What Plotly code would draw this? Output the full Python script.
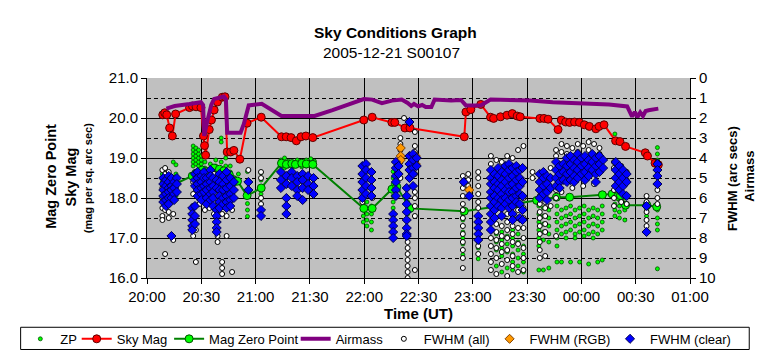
import plotly.graph_objects as go

FONT = "Liberation Sans, Arial, sans-serif"

# ---------------- data ----------------
# x values are minutes after 20:00 UT
tick_vals = [0, 30, 60, 90, 120, 150, 180, 210, 240, 270, 300]
tick_text = ["20:00", "20:30", "21:00", "21:30", "22:00", "22:30",
             "23:00", "23:30", "00:00", "00:30", "01:00"]
left_ticks = [16, 17, 18, 19, 20, 21]
right_ticks = [0, 1, 2, 3, 4, 5, 6, 7, 8, 9, 10]

airmass_t = [10.7, 15.3, 23.5, 29.8, 31.0, 31.6, 33.3, 35.5, 37.1, 39.8, 42.5, 43.6,
             44.3, 51.7, 53.5, 56.2, 63.4, 74.3, 92.6, 102.5, 119.8, 124.4, 129.8,
             135.3, 140.7, 144.0, 146.0, 147.5, 149.8, 152.0, 154.0, 157.1, 158.9,
             168.0, 173.5, 176.2, 184.4, 189.8, 206.2, 211.6, 224.2, 237.1, 255.3,
             265.3, 268.0, 269.5, 271.0, 272.5, 274.0, 275.5, 277.1, 282.5]
airmass_v = [1.53, 1.40, 1.30, 1.21, 1.35, 2.90, 2.17, 1.35, 1.05, 0.97, 0.93, 1.06,
             2.74, 2.74, 2.30, 1.37, 1.29, 1.90, 1.90, 1.61, 1.05, 1.08, 1.26,
             1.13, 1.08, 1.25, 1.40, 1.30, 1.42, 1.35, 1.45, 1.45, 1.08,
             1.13, 1.10, 1.37, 1.37, 1.08, 1.08, 1.13, 1.21, 1.24, 1.32,
             1.42, 1.93, 1.70, 1.95, 1.72, 1.90, 1.65, 1.61, 1.53]

skymag_t = [8.7, 9.8, 10.9, 12.5, 14.0, 15.8, 23.5, 25.1, 27.1, 29.8, 31.2, 31.8,
            32.4, 34.4, 35.6, 37.1, 38.9, 41.6, 43.1, 44.3, 46.2, 48.0, 51.3, 55.3,
            63.1, 74.3, 76.9, 79.6, 82.5, 85.1, 87.8, 91.6, 119.8, 124.4, 135.3,
            136.9, 142.5, 145.3, 175.3, 176.2, 178.9, 184.4, 189.8, 191.5, 195.3,
            198.9, 201.8, 204.5, 206.2, 217.1, 219.3, 221.6, 227.1, 228.9, 231.3,
            233.5, 236.2, 238.9, 241.6, 244.4, 248.0, 249.8, 252.5, 258.9, 261.3,
            264.4, 275.3, 276.5, 280.7, 282.5]
skymag_v = [20.08, 20.13, 20.08, 19.75, 19.55, 20.10, 20.26, 20.30, 20.28, 20.26, 19.55, 19.31,
            19.07, 19.71, 19.95, 20.20, 20.40, 20.52, 20.53, 19.15, 19.15, 19.19, 18.97, 19.87,
            20.02, 19.53, 19.53, 19.51, 19.43, 19.53, 19.55, 19.51, 19.95, 20.02, 19.89,
            19.89, 19.75, 19.75, 19.53, 20.15, 20.21, 20.34, 20.02, 19.99, 20.03,
            20.07, 20.11, 20.05, 20.03, 19.99, 19.99, 19.97, 19.71, 19.95, 19.90,
            19.89, 19.90, 19.89, 19.83, 19.79, 19.73, 19.79, 19.83, 19.43, 19.41,
            19.29, 19.13, 19.05, 18.87, 18.83]

mzp_t = [15.5, 25.0, 27.0, 30.5, 33.0, 37.0, 40.0, 42.5, 45.5, 47.5, 50.0, 55.3, 63.1,
         74.3, 77.0, 80.0, 82.0, 85.5, 88.0, 91.6, 119.8, 124.4, 135.3, 138.0, 145.3,
         175.3, 204.4, 215.3, 226.2, 233.5, 251.6, 257.0, 260.0, 261.6, 264.4, 276.2, 281.6]
mzp_v = [18.35, 18.55, 18.62, 18.70, 18.66, 18.75, 18.72, 18.68, 18.58, 18.46, 18.42, 18.06, 18.25,
         18.87, 18.84, 18.86, 18.84, 18.87, 18.85, 18.84, 17.74, 17.74, 18.22, 18.28, 17.74,
         17.67, 17.86, 17.94, 18.02, 18.02, 18.08, 18.10, 18.04, 18.06, 17.82, 17.82, 17.78]

# scatter clouds: (minutes after 20:00, [values])
zp_cols = [
    (8.5, [18.0, 18.2, 18.4, 18.6]), (10, [18.1, 18.45, 18.75]), (12.5, [17.9, 18.3, 18.55]),
    (14.5, [18.2, 18.9]), (16, [18.05, 18.6, 18.83]),
    (25.5, [18.8, 18.9, 19.0, 19.1, 19.2, 19.3, 18.5]), (27, [18.85, 18.95, 19.05, 19.15, 19.25]),
    (28.5, [18.8, 18.9, 19.0, 19.1, 19.2, 18.6]), (30, [18.85, 18.95, 19.05, 18.45]),
    (32, [18.6, 18.75, 18.9]), (35, [18.3, 18.55, 18.7, 18.85]), (38, [18.4, 18.65, 18.8, 18.95]),
    (41, [19.5, 19.4, 18.5, 18.7, 18.9]), (43.5, [18.35, 18.6, 18.8, 19.0]),
    (46, [18.4, 18.65, 18.8]), (48.5, [18.5, 18.35]), (50.5, [18.45, 18.6]),
    (55.5, [18.66, 17.86, 17.7, 17.54]), (63, [18.63, 18.45, 18.1, 17.85]),
    (74, [18.8, 18.95]), (76, [18.75, 18.85, 19.0]), (78, [18.8, 18.92]), (80.5, [18.78, 18.9]),
    (83, [18.85, 18.95]), (85.5, [18.78, 18.9]), (88, [18.8, 18.95]), (90.5, [18.85, 18.98]),
    (92.5, [18.8, 18.92]),
    (119.5, [17.85, 17.7, 17.55, 17.4]), (121.5, [17.9, 17.75, 17.6, 17.45, 17.3]),
    (124, [17.8, 17.6, 17.4, 17.2]),
    (136, [18.66, 18.5, 18.35, 18.2, 18.05, 17.9, 17.75, 17.62]), (144, [18.05, 17.9, 17.75, 17.6]),
    (174.5, [17.6, 17.45, 17.3, 17.15, 17.0, 16.85, 16.7, 16.58]),
    (183, [17.2, 17.05, 16.9, 16.75, 16.6, 16.48]),
    (190, [17.2, 17.0, 16.8, 16.6, 16.4, 16.2]), (193, [17.1, 16.9, 16.7, 16.5, 16.3]),
    (196, [17.15, 16.95, 16.75, 16.55, 16.35, 16.15]), (199, [17.05, 16.85, 16.65, 16.45, 16.25]),
    (202, [17.2, 17.0, 16.8, 16.6, 16.4, 16.2]), (205, [17.1, 16.9, 16.7, 16.5, 16.3]),
    (208, [17.0, 16.8, 16.6, 16.4, 16.15]),
    (216.5, [17.8, 17.6, 17.4, 17.2, 17.0, 16.8, 16.2]), (219, [17.75, 17.55, 17.35, 17.15, 16.95, 16.2]),
    (222, [17.7, 17.5, 17.3, 17.1, 16.9, 16.25]), (226.5, [17.8, 17.6, 17.4, 17.2, 17.0, 16.8, 16.4]),
    (229, [17.7, 17.5, 17.3, 17.1, 16.4]), (231.5, [17.75, 17.55, 17.35, 17.15, 17.0]),
    (234, [17.8, 17.6, 17.4, 17.2, 16.4]), (236.5, [17.7, 17.5, 17.3, 17.1, 17.0]),
    (239, [17.75, 17.55, 17.35, 17.15, 16.4]), (241.5, [17.8, 17.6, 17.4, 17.2, 17.05]),
    (244, [17.7, 17.5, 17.3, 17.1, 16.35]), (246.5, [17.75, 17.55, 17.35, 17.15, 17.0]),
    (249, [17.7, 17.5, 17.3, 17.1, 16.4]), (251.5, [17.8, 17.6, 17.4, 17.2, 16.45]),
    (258.5, [18.0, 17.85, 17.7, 17.55, 19.6]), (261, [17.95, 17.8, 17.65, 17.5]),
    (264, [18.0, 17.85, 17.7, 17.45]), (276, [17.85, 17.7, 17.55]),
    (282, [19.26, 19.1, 18.95, 18.83, 17.7, 17.5, 17.35, 17.2, 16.23]),
]

fwhm_all_cols = [
    (8.5, [4.6, 5.0, 5.5, 6.0, 6.5, 6.9, 7.1]), (10, [4.5, 4.8, 6.6, 8.8]), (12, [4.7, 6.7, 7.0]),
    (14.5, [8.1, 6.8]), (25.5, [5.2, 5.8, 6.4, 7.9]), (27, [4.9, 5.5, 7.6, 9.2]),
    (29, [5.0, 5.7, 6.3]), (32, [5.3, 6.0, 6.6]), (34.5, [5.1, 5.9, 6.5]), (37, [4.8, 6.2, 6.8]),
    (39, [6.4, 7.9, 8.2]), (41.5, [6.8, 9.2, 9.5, 9.8]), (44, [6.9, 7.9]), (47, [6.6, 9.7]),
    (56, [4.6]), (63, [4.7, 5.0, 6.0, 6.3]), (119, [5.8, 6.2]), (124.5, [6.0]),
    (140, [3.0, 3.3, 3.6, 3.9, 4.2, 5.0]), (142, [2.0]),
    (144, [8.2, 8.5, 8.8, 9.1, 9.4, 9.7, 10.0]),
    (148, [2.7, 3.4, 3.7, 4.0, 4.4, 4.8, 5.7, 6.0, 6.4, 6.9, 9.6]),
    (174.5, [4.9, 5.2, 5.5, 5.9, 6.3, 6.6, 7.0, 7.4, 7.8, 8.2, 8.6, 9.0, 9.5]),
    (177.5, [4.8, 5.1, 5.4]), (183, [4.7, 5.0, 5.4, 5.8, 6.2, 6.5, 8.4, 8.8]),
    (190, [3.9, 4.3, 7.6, 8.0, 8.4, 8.8, 9.2, 9.6]), (193, [4.1, 7.3, 7.7, 8.1, 8.5, 9.0, 9.8]),
    (196, [4.2, 7.4, 7.9, 8.3, 8.7, 9.3]), (199, [3.9, 6.8, 7.2, 7.6, 8.0, 8.6, 9.1, 9.9]),
    (202, [4.0, 7.4, 7.8, 8.2, 8.9, 9.4]), (205, [3.6, 6.6, 7.0, 7.5, 8.3, 9.7]),
    (208, [3.4, 6.0, 6.5, 7.0, 7.5, 8.0, 8.5, 9.0, 9.6]), (213, [4.7, 5.0]),
    (217, [5.9, 6.3, 6.7, 7.0, 7.4, 7.8, 8.2, 8.6, 9.0]), (220, [6.2, 6.5, 6.9, 7.3, 7.7, 8.9]),
    (223, [4.5, 6.4]), (226, [3.6, 3.9, 5.6, 6.0, 7.9]), (229, [3.3, 3.7, 5.7]), (232, [3.4, 3.8]),
    (235, [3.5, 5.5]), (238, [3.3, 3.7]), (241, [3.4, 5.4]), (244, [3.2, 3.6]), (247, [3.3, 5.3]),
    (250, [3.5, 3.8]), (258, [4.2, 4.5, 5.6, 6.0, 6.4]), (262, [4.4, 6.2]), (265, [4.7, 5.1, 6.3]),
    (276, [5.9, 6.2, 6.7, 7.1, 7.4]), (282, [4.2, 5.6, 6.0, 6.3]),
]

fwhm_rgb_cols = [(140.2, [3.5, 3.9, 4.1]), (148.5, [3.9, 4.3]), (178, [5.6])]

fwhm_clear_cols = [
    (9, [5.0, 5.3, 5.6, 5.9, 6.2]), (10.5, [5.1, 5.4, 5.8, 6.1, 6.4]),
    (12, [4.9, 5.2, 5.5, 5.7, 6.0, 6.3]), (13.5, [5.0, 5.4, 5.6, 6.0, 7.9]),
    (15, [5.2, 5.5, 5.8, 6.1]), (16.5, [5.0, 5.3, 5.7]),
    (25, [6.5, 6.8, 7.1, 7.4, 7.6]), (26.5, [4.8, 5.1, 5.4, 6.4, 6.9, 7.3]),
    (28, [4.7, 5.0, 5.3, 5.6, 5.9]), (30, [4.9, 5.2, 5.5, 5.8, 6.1]), (31.5, [4.7, 5.0, 5.4, 5.7]),
    (33, [5.0, 5.3, 5.6, 6.0, 6.3]), (35, [4.6, 4.9, 5.2, 5.5, 5.8, 6.1]),
    (36.5, [5.0, 5.4, 5.7, 6.0, 6.4]), (38.5, [5.1, 5.5, 6.6, 6.9, 7.2, 7.5, 7.7]),
    (40, [4.8, 5.2, 5.6, 5.9, 6.2, 6.5]), (42, [4.9, 5.3, 5.6, 6.0, 6.3]),
    (44, [4.7, 5.1, 5.5, 5.9, 6.2, 6.5]), (46, [5.0, 5.4, 5.8, 6.1, 6.4]), (48, [5.2, 5.6, 6.0]),
    (56, [5.2, 5.6]), (63, [6.6, 6.9]), (74, [4.7, 5.1, 5.5]), (77, [4.9, 5.3, 6.0, 6.4, 6.8]),
    (80, [4.7, 5.0, 5.4]), (83, [4.9, 5.2, 5.6, 5.9]), (86, [4.8, 5.1, 5.5, 6.1]),
    (89, [4.9, 5.3, 5.6]), (92, [5.0, 5.4, 5.8]),
    (119, [4.4, 4.8, 5.2, 5.6, 6.0]), (121, [4.3, 4.6, 5.0, 5.4, 5.8]), (124, [4.7, 5.1, 5.5, 5.9]),
    (136, [6.8, 7.1, 7.4, 7.7, 8.0]), (137.5, [4.2, 4.5, 4.9, 5.2, 5.6, 5.9]), (139, [4.4, 4.8]),
    (143.5, [5.5, 5.9, 6.3, 6.7, 7.1, 7.5, 7.8, 7.9]), (145, [2.2, 3.9, 4.3, 4.6, 5.0]),
    (147, [3.8, 4.1, 4.5, 4.8, 5.4]), (149, [4.0, 4.4]),
    (175, [5.2]), (178, [5.9]), (183, [6.9, 7.2, 7.5, 7.8, 8.1]),
    (190, [4.6, 5.0, 5.3, 5.7, 6.0, 6.4, 6.8, 7.2, 7.6]), (192, [4.8, 5.2, 5.5, 5.9, 6.2, 6.6, 7.0]),
    (194, [4.5, 4.9, 5.3, 5.6, 6.0, 6.4]), (196, [4.7, 5.1, 5.4, 5.8, 6.1, 6.5, 6.9]),
    (198, [4.4, 4.8, 5.2, 5.6, 6.0, 6.3]), (200, [4.3, 4.6, 5.0, 5.4, 5.7, 6.1, 6.5]),
    (202, [4.5, 4.9, 5.3, 5.7, 6.0, 6.4, 6.8, 7.1]), (204, [4.4, 4.7, 5.1, 5.5, 5.9, 6.2]),
    (206, [4.6, 5.0, 5.4, 5.8, 6.3, 7.0]), (207.5, [4.5, 5.2, 5.9, 6.6, 7.1]),
    (217, [4.8, 5.2, 5.6, 6.0]), (219, [4.7, 5.0, 5.4, 5.8]), (221, [4.9, 5.3, 5.7, 6.1]),
    (223, [5.0, 5.5]), (226, [4.2, 4.6, 5.0, 5.4]), (228, [4.4, 4.8, 5.2, 5.5]),
    (230, [4.3, 4.7, 5.1]), (232, [4.0, 4.4, 4.8, 5.2]), (234, [3.9, 4.3, 4.7, 5.1]),
    (236, [4.1, 4.5, 4.9, 5.2]), (238, [3.8, 4.2, 4.6, 5.0]), (240, [4.0, 4.4, 4.8]),
    (242, [3.9, 4.3, 4.7, 5.1]), (244, [4.1, 4.5, 4.9]), (246, [3.8, 4.2, 4.6]),
    (248, [4.0, 4.4, 4.8, 5.2]), (250, [3.9, 4.3, 4.7]), (252, [4.1, 4.5]),
    (259, [4.2, 4.6, 5.0, 5.4]), (261, [4.4, 4.8, 5.2, 5.6]), (263, [4.6, 5.0, 5.4, 5.8]),
    (265, [4.8, 5.2, 5.9]), (276, [6.4, 7.7]), (282, [4.3, 4.6, 4.9, 5.3]),
]


def flatten(cols):
    xs, ys = [], []
    for t, vals in cols:
        for v in vals:
            xs.append(t)
            ys.append(v)
    return xs, ys


# ---------------- figure ----------------
L, R, T, B = 132, 82, 70, 81
W, H = 764, 358
PW, PH = W - L - R, H - T - B


def px(xp):
    return (xp - L) / PW


def py(yp):
    return (H - B - yp) / PH


fig = go.Figure()

zx, zy = flatten(zp_cols)
fig.add_trace(go.Scatter(x=zx, y=zy, mode="markers", name="ZP", legend="legend",
                         marker=dict(symbol="circle", size=4, color="#00FF00",
                                     line=dict(color="#005000", width=0.8))))
fig.add_trace(go.Scatter(x=skymag_t, y=skymag_v, mode="lines+markers", name="Sky Mag",
                         legend="legend2",
                         line=dict(color="#FF0000", width=2),
                         marker=dict(symbol="circle", size=8, color="#FF0000",
                                     line=dict(color="#600000", width=1))))
fig.add_trace(go.Scatter(x=mzp_t, y=mzp_v, mode="lines+markers", name="Mag Zero Point",
                         legend="legend3",
                         line=dict(color="#008000", width=2),
                         marker=dict(symbol="circle", size=8, color="#00FF00",
                                     line=dict(color="#005000", width=1))))
ax_, ay_ = flatten(fwhm_all_cols)
fig.add_trace(go.Scatter(x=ax_, y=ay_, mode="markers", name="FWHM (all)", yaxis="y2",
                         legend="legend5",
                         marker=dict(symbol="circle", size=5, color="#FFFFFF",
                                     line=dict(color="#000000", width=1))))
rx, ry = flatten(fwhm_rgb_cols)
fig.add_trace(go.Scatter(x=rx, y=ry, mode="markers", name="FWHM (RGB)", yaxis="y2",
                         legend="legend6",
                         marker=dict(symbol="diamond", size=7, color="#FF9900",
                                     line=dict(color="#804000", width=1))))
cx, cy = flatten(fwhm_clear_cols)
fig.add_trace(go.Scatter(x=cx, y=cy, mode="markers", name="FWHM (clear)", yaxis="y2",
                         legend="legend7",
                         marker=dict(symbol="diamond", size=7, color="#0000FF",
                                     line=dict(color="#000050", width=1))))
fig.add_trace(go.Scatter(x=airmass_t, y=airmass_v, mode="lines", name="Airmass", yaxis="y2",
                         legend="legend4",
                         line=dict(color="#800080", width=4)))

leg_left_px = [3.7, 60.8, 154.4, 282.6, 371.9, 479.0, 601.0]
leg_names = ["legend", "legend2", "legend3", "legend4", "legend5", "legend6", "legend7"]
leg_y = py(340)
legend_layout = {}
for nm, lp in zip(leg_names, leg_left_px):
    legend_layout[nm] = dict(x=px(lp), xanchor="left", y=leg_y, yanchor="middle",
                             orientation="h", bgcolor="rgba(0,0,0,0)", borderwidth=0,
                             font=dict(family=FONT, size=13, color="black"),
                             itemwidth=30)

fig.update_layout(
    width=W, height=H,
    margin=dict(l=L, r=R, t=T, b=B),
    paper_bgcolor="white", plot_bgcolor="#C0C0C0",
    font=dict(family=FONT, size=15, color="black"),
    showlegend=True,
    **legend_layout,
    xaxis=dict(range=[0, 300], tickvals=tick_vals, ticktext=tick_text,
               ticks="outside", ticklen=5, tickcolor="black",
               showline=True, linecolor="black", linewidth=1,
               showgrid=True, gridcolor="black", gridwidth=1, zeroline=False,
               tickfont=dict(size=15),
               title=dict(text="<b>Time (UT)</b>", font=dict(size=15), standoff=4)),
    yaxis=dict(range=[16, 21], tickvals=left_ticks, tickformat=".1f",
               ticks="outside", ticklen=5, tickcolor="black",
               showline=True, linecolor="black", linewidth=1,
               showgrid=True, gridcolor="black", gridwidth=1, zeroline=False,
               tickfont=dict(size=15),
               minor=dict(dtick=0.5, showgrid=True, gridcolor="black", gridwidth=1,
                          griddash="4px,3px", ticks="")),
    yaxis2=dict(range=[10, 0], tickvals=right_ticks, overlaying="y", side="right",
                ticks="outside", ticklen=5, tickcolor="black",
                showline=True, linecolor="black", linewidth=1,
                showgrid=False, zeroline=False, tickfont=dict(size=15)),
    shapes=[dict(type="rect", xref="paper", yref="paper",
                 x0=px(4), x1=px(742), y0=py(351), y1=py(328),
                 line=dict(color="black", width=1), fillcolor="rgba(0,0,0,0)")],
    annotations=[
        dict(text="<b>Sky Conditions Graph</b>", x=px(384), y=py(23), xref="paper", yref="paper",
             showarrow=False, font=dict(size=15.5), xanchor="center", yanchor="middle"),
        dict(text="2005-12-21 S00107", x=px(380), y=py(44), xref="paper", yref="paper",
             showarrow=False, font=dict(size=15.5), xanchor="center", yanchor="middle"),
        dict(text="<b>Mag Zero Point</b>", x=px(34), y=py(172), xref="paper", yref="paper",
             showarrow=False, textangle=-90, font=dict(size=14.5), xanchor="center", yanchor="middle"),
        dict(text="<b>Sky Mag</b>", x=px(55), y=py(172), xref="paper", yref="paper",
             showarrow=False, textangle=-90, font=dict(size=14.5), xanchor="center", yanchor="middle"),
        dict(text="<b>(mag per sq. arc sec)</b>", x=px(73), y=py(174), xref="paper", yref="paper",
             showarrow=False, textangle=-90, font=dict(size=11), xanchor="center", yanchor="middle"),
        dict(text="<b>FWHM (arc secs)</b>", x=px(725), y=py(174), xref="paper", yref="paper",
             showarrow=False, textangle=-90, font=dict(size=13), xanchor="center", yanchor="middle"),
        dict(text="<b>Airmass</b>", x=px(742), y=py(172), xref="paper", yref="paper",
             showarrow=False, textangle=-90, font=dict(size=13), xanchor="center", yanchor="middle"),
    ],
)

fig.write_html("out.html")
